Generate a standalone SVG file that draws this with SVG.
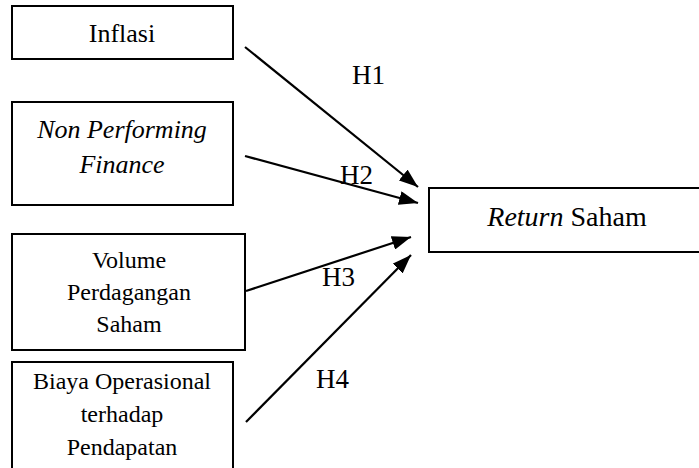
<svg xmlns="http://www.w3.org/2000/svg" width="699" height="468" viewBox="0 0 699 468">
<style>
.box{fill:#fff;stroke:#000;stroke-width:2}
.t{font-family:'Liberation Serif',serif;font-size:24px;fill:#000;text-anchor:middle}
.i{font-style:italic}
.lbl{font-family:'Liberation Serif',serif;font-size:27px;fill:#000}
.c{stroke:#000;stroke-width:2.2;fill:none;marker-end:url(#ah)}
</style>
<defs>
<marker id="ah" markerUnits="userSpaceOnUse" markerWidth="20" markerHeight="14" refX="19" refY="7" orient="auto">
<path d="M0,0 L19,7 L0,14 z" fill="#000"/>
</marker>
</defs>
<rect width="699" height="468" fill="#fff"/>
<g id="inflasi">
<rect class="box" x="12" y="6" width="221" height="53"/>
<text class="t" x="122" y="42" style="font-size:26px">Inflasi</text>
</g>
<g id="npf">
<rect class="box" x="12" y="102" width="221" height="103"/>
<text class="t i" x="122" y="138" style="font-size:26px">Non Performing</text>
<text class="t i" x="122" y="173" style="font-size:26px">Finance</text>
</g>
<g id="volume">
<rect class="box" x="12" y="234" width="233" height="116"/>
<text class="t" x="129" y="268">Volume</text>
<text class="t" x="129" y="300">Perdagangan</text>
<text class="t" x="129" y="332">Saham</text>
</g>
<g id="biaya">
<rect class="box" x="12" y="362" width="221" height="120"/>
<text class="t" x="122" y="389">Biaya Operasional</text>
<text class="t" x="122" y="422">terhadap</text>
<text class="t" x="122" y="455">Pendapatan</text>
</g>
<g id="return">
<rect class="box" x="429" y="188" width="280" height="64"/>
<text class="t" x="567" y="226" style="font-size:28px"><tspan class="i">Return</tspan> Saham</text>
</g>
<g id="connectors">
<line class="c" x1="245" y1="47" x2="418" y2="187"/>
<line class="c" x1="245" y1="156" x2="418" y2="203"/>
<line class="c" x1="246" y1="291" x2="411" y2="237"/>
<line class="c" x1="246" y1="422" x2="411" y2="255"/>
<text class="lbl" x="352" y="84">H1</text>
<text class="lbl" x="340" y="184">H2</text>
<text class="lbl" x="322" y="286">H3</text>
<text class="lbl" x="316" y="388">H4</text>
</g>
</svg>
